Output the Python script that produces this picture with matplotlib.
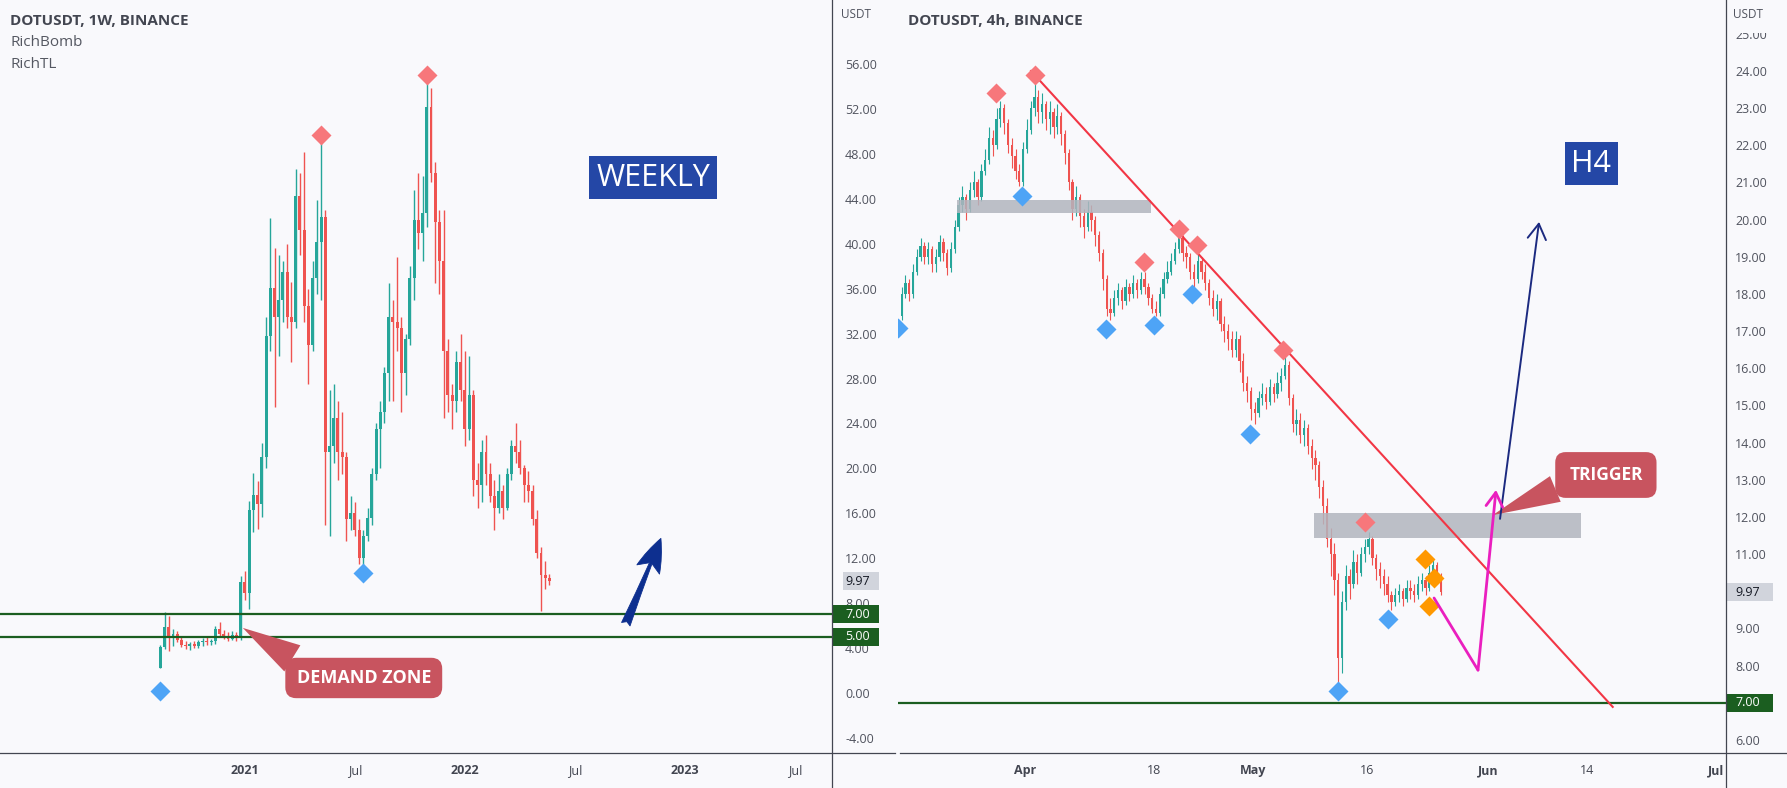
import matplotlib
matplotlib.use("Agg")
import numpy as np
import matplotlib.pyplot as plt
import matplotlib.transforms as mtransforms
from matplotlib.patches import Rectangle, FancyArrowPatch
from matplotlib.lines import Line2D

plt.rcParams["font.family"] = ["Open Sans", "DejaVu Sans"]

W, H = 1787, 788
BG = "#f9f9fc"
UP, DOWN = "#26a69a", "#ef5350"
TXT = "#50535e"
EDGE = "#434651"
ZONE = "#1b5e20"
PEAK, TROUGH, WARN = "#f7777b", "#4ea4f6", "#ff9800"

# ---- weekly DOTUSDT (bar index 0 = week of 2020-08-17) ----
w_first_open = 2.2
w_close = [4.1, 5.9, 4.9, 5.3, 4.7, 4.3, 4.2, 4.4, 4.2, 4.5,
           4.6, 4.5, 4.6, 5.7, 5.3, 5.0, 4.8, 5.2, 4.9, 9.9,
           8.9, 16.3, 17.6, 16.8, 21.0, 31.8, 36.1, 33.5, 35.0, 37.5,
           33.5, 33.0, 44.3, 41.2, 34.5, 31.0, 37.0, 40.2, 42.4, 21.5,
           22.0, 24.5, 21.5, 21.0, 15.5, 16.0, 14.5, 12.0, 14.0, 15.6,
           19.5, 23.5, 25.0, 28.5, 33.5, 33.0, 32.5, 28.5, 31.5, 37.0,
           42.1, 41.0, 42.7, 52.2, 46.3, 41.9, 38.5, 30.5, 26.5, 26.0,
           29.5, 27.0, 23.5, 26.5, 19.0, 18.5, 21.5, 19.5, 17.5, 16.5,
           18.0, 16.5, 19.5, 22.0, 21.5, 20.0, 18.5, 18.0, 15.5, 12.5,
           10.5, 10.2, 9.97]
w_high = [4.3, 7.2, 6.9, 5.7, 5.5, 5.0, 4.6, 4.5, 4.6, 4.7,
          4.9, 5.0, 4.8, 6.0, 6.3, 5.6, 5.4, 5.5, 5.4, 10.4,
          10.9, 17.1, 19.6, 18.9, 22.3, 33.5, 42.3, 39.6, 39.0, 38.5,
          40.0, 36.6, 46.7, 46.3, 48.2, 36.0, 38.5, 43.9, 49.7, 43.0,
          27.0, 27.5, 26.0, 25.0, 21.5, 17.5, 17.0, 15.5, 14.5, 16.5,
          20.0, 24.0, 26.0, 29.0, 36.5, 35.0, 38.8, 33.5, 32.0, 38.0,
          44.8, 46.3, 46.0, 55.0, 53.9, 47.3, 43.0, 43.0, 31.5, 27.5,
          30.5, 32.0, 30.5, 30.0, 27.0, 20.5, 22.5, 23.0, 20.5, 19.0,
          19.5, 18.5, 20.0, 22.5, 24.0, 22.5, 20.3, 19.8, 18.5, 16.3,
          13.0, 11.8, 10.6]
w_low = [2.2, 3.9, 3.7, 4.2, 4.5, 4.1, 3.9, 3.8, 4.0, 4.0,
         4.2, 4.3, 4.3, 4.4, 5.0, 4.8, 4.6, 4.7, 4.6, 4.7,
         8.3, 7.5, 14.3, 14.6, 15.7, 20.0, 30.5, 25.5, 30.0, 33.0,
         32.5, 29.5, 32.5, 39.0, 33.0, 27.5, 30.5, 35.5, 35.0, 15.0,
         14.0, 20.5, 19.0, 19.5, 13.5, 14.5, 14.0, 11.5, 10.4, 13.5,
         15.0, 19.0, 20.0, 24.0, 26.0, 26.0, 30.5, 25.0, 26.5, 31.0,
         35.0, 39.5, 38.5, 41.5, 45.5, 36.5, 35.5, 24.5, 25.0, 23.5,
         25.0, 26.0, 22.0, 22.5, 17.5, 16.5, 17.0, 18.5, 17.0, 14.5,
         16.0, 15.5, 16.3, 19.0, 20.5, 19.5, 17.0, 17.0, 15.0, 12.0,
         7.3, 9.3, 9.6]
w_tick_bars = [20, 46, 72, 98, 124, 150]
w_tick_labels = ["2021", "Jul", "2022", "Jul", "2023", "Jul"]
w_peak_bar, w_peak_px = [38, 63], [49.7, 55.0]
w_trough_bar, w_trough_px = [0, 48], [0.2, 10.65]
w_zones = [7.0, 5.0]

# ---- DOTUSDT 4h view, 12h bars from 2022-03-15 12:00 (day 0 = 1 Apr) ----
r_first_open = 17.4
r_close = [18.0,
           18.3, 18.0, 18.6, 19.0, 19.3, 19.0, 19.2, 18.8, 19.0, 19.4,
           19.1, 18.7, 19.2, 19.8, 20.4, 20.6, 20.3, 20.8, 21.0, 20.6,
           21.3, 21.6, 22.2, 22.0, 22.7, 23.0, 22.6, 22.0, 21.7, 21.3,
           21.0, 21.9, 22.4, 23.0, 23.3, 22.9, 23.1, 22.7, 22.9, 22.5,
           22.8, 22.3, 21.8, 21.0, 20.3, 20.6, 20.1, 19.8, 20.2, 20.0,
           19.6, 19.1, 18.4, 17.6, 17.5, 17.9, 18.1, 17.8, 18.2, 18.0,
           18.3, 18.1, 18.4, 18.2, 17.9, 17.6, 17.5, 18.0, 18.4, 18.6,
           18.9, 19.2, 19.5, 19.1, 19.0, 18.6, 18.4, 18.9, 18.6, 18.3,
           17.9, 17.6, 17.8, 17.2, 17.0, 16.8, 16.5, 16.8, 16.2, 15.6,
           15.4, 14.9, 14.8, 15.2, 15.3, 15.1, 15.5, 15.3, 15.6, 15.8,
           16.1, 15.2, 14.5, 14.6, 14.2, 14.4, 13.9, 13.6, 13.4, 12.8,
           12.3, 11.4, 11.0, 10.3, 8.2, 9.7, 10.4, 10.2, 10.8, 10.5,
           11.0, 11.2, 11.4, 10.9, 10.6, 10.4, 10.2, 9.9, 9.7, 9.9,
           10.0, 9.8, 10.1, 10.0, 9.9, 10.2, 10.3, 10.1, 10.5, 10.7,
           10.4, 9.97]
r_high = [18.2,
          18.5, 18.4, 18.8, 19.2, 19.5, 19.4, 19.4, 19.3, 19.2, 19.6,
          19.5, 19.2, 19.4, 20.0, 20.6, 20.9, 20.7, 21.0, 21.3, 21.1,
          21.5, 21.9, 22.5, 22.4, 23.0, 23.2, 23.1, 22.7, 22.2, 21.9,
          21.5, 22.1, 22.7, 23.2, 23.7, 23.5, 23.4, 23.2, 23.2, 23.0,
          23.1, 22.9, 22.4, 21.9, 21.1, 20.9, 20.7, 20.3, 20.5, 20.4,
          20.1, 19.7, 19.2, 18.5, 17.9, 18.1, 18.3, 18.2, 18.4, 18.3,
          18.5, 18.4, 18.6, 18.6, 18.3, 18.0, 17.8, 18.2, 18.6, 18.9,
          19.1, 19.4, 19.7, 19.6, 19.3, 19.1, 18.8, 19.2, 19.0, 18.8,
          18.4, 18.1, 18.0, 17.9, 17.4, 17.2, 17.0, 17.0, 16.9, 16.4,
          15.8, 15.5, 15.1, 15.4, 15.6, 15.5, 15.7, 15.6, 15.9, 16.0,
          16.3, 16.2, 15.3, 14.9, 14.8, 14.6, 14.5, 14.1, 13.8, 13.5,
          13.0, 12.5, 11.7, 11.3, 10.5, 10.0, 10.7, 10.6, 11.1, 11.0,
          11.2, 11.4, 11.6, 11.5, 11.0, 10.8, 10.6, 10.4, 10.0, 10.1,
          10.2, 10.1, 10.3, 10.3, 10.2, 10.4, 10.5, 10.4, 10.7, 10.9,
          10.8, 10.5]
r_low = [17.3,
         17.9, 17.8, 17.9, 18.5, 18.9, 18.8, 18.8, 18.6, 18.6, 18.9,
         18.9, 18.5, 18.6, 19.1, 19.7, 20.2, 20.0, 20.2, 20.6, 20.4,
         20.5, 21.2, 21.5, 21.7, 21.9, 22.5, 22.3, 21.8, 21.4, 21.1,
         20.9, 20.9, 21.8, 22.3, 22.8, 22.6, 22.6, 22.4, 22.3, 22.2,
         22.3, 22.0, 21.5, 20.8, 20.0, 20.1, 19.8, 19.5, 19.7, 19.7,
         19.3, 18.9, 18.1, 17.4, 17.3, 17.4, 17.7, 17.6, 17.7, 17.8,
         17.9, 17.9, 18.0, 18.0, 17.7, 17.5, 17.4, 17.4, 17.9, 18.3,
         18.5, 18.8, 19.1, 18.9, 18.7, 18.4, 18.2, 18.3, 18.4, 18.1,
         17.7, 17.4, 17.3, 17.0, 16.7, 16.5, 16.3, 16.3, 15.9, 15.4,
         15.1, 14.6, 14.5, 14.7, 15.0, 14.9, 15.0, 15.1, 15.2, 15.4,
         15.7, 15.0, 14.3, 14.2, 14.0, 13.9, 13.7, 13.3, 13.0, 12.5,
         11.8, 11.2, 10.4, 9.9, 7.5, 7.8, 9.5, 9.8, 10.1, 10.2,
         10.4, 10.8, 11.0, 10.7, 10.3, 10.1, 9.9, 9.7, 9.5, 9.6,
         9.7, 9.6, 9.7, 9.8, 9.7, 9.8, 10.0, 9.9, 10.0, 10.3,
         10.2, 9.9]
r_start_day = -16.5
r_tick_days = [0, 17, 30, 45, 61, 74, 91]
r_tick_labels = ["Apr", "18", "May", "16", "Jun", "14", "Jul"]
r_price_ticks = [6, 7, 8, 9, 11, 12, 13, 14, 15, 16, 17, 18, 19, 20, 21, 22, 23, 24, 25]
r_peak_day = [-3.8, 1.3, 15.7, 20.3, 22.6, 34.0, 44.8]
r_peak_px = [23.40, 23.89, 18.86, 19.75, 19.32, 16.50, 11.87]
r_trough_day = [-16.7, -0.36, 10.6, 17.0, 22.0, 29.6, 41.2, 47.8]
r_trough_px = [17.08, 20.64, 17.05, 17.17, 18.0, 14.23, 7.33, 9.26]
r_warn_day = [52.7, 53.9, 53.2]
r_warn_px = [10.86, 10.37, 9.60]
r_zone = 7.0
last_price = 9.97

fig = plt.figure(figsize=(W / 100, H / 100), dpi=100, facecolor=BG)


def px_axes(x0, y0, x1, y1):
    return fig.add_axes([x0 / W, 1 - y1 / H, (x1 - x0) / W, (y1 - y0) / H])


def candles(ax, x, first_open, high, low, close, width, lw, min_h):
    close = np.asarray(close, float)
    opn = np.concatenate([[first_open], close[:-1]])
    colors = np.where(close >= opn, UP, DOWN)
    hi = np.maximum(np.asarray(high, float), np.maximum(opn, close))
    lo = np.minimum(np.asarray(low, float), np.minimum(opn, close))
    ax.vlines(x, lo, hi, colors=colors, lw=lw, zorder=2)
    ax.bar(x, np.maximum(np.abs(close - opn), min_h), width,
           bottom=np.minimum(opn, close), color=colors, lw=0, zorder=2)


axL = px_axes(0, 0, 832, 753)
axR = px_axes(898, 0, 1726, 753)

for ax in (axL, axR):
    ax.set_facecolor(BG)
    for s in ax.spines.values():
        s.set_visible(False)
    ax.yaxis.tick_right()
    ax.tick_params(axis="both", length=0, labelsize=9, labelcolor=TXT)
    ax.tick_params(axis="x", pad=8)

# ---------------- left: weekly ----------------
wx = np.arange(len(w_close))
candles(axL, wx, w_first_open, w_high, w_low, w_close, 0.7, 1.0, 0.09)
axL.set_xlim(-37.9, 158.8)
axL.set_ylim(-5.34, 61.71)
yt = np.arange(-4, 57, 4)
axL.set_yticks(yt)
axL.set_yticklabels([f"{v:.2f}" for v in yt])
axL.tick_params(axis="y", pad=9.4)
axL.set_xticks(w_tick_bars)
axL.set_xticklabels(w_tick_labels)
for lab in axL.get_xticklabels():
    lab.set_fontweight("bold" if lab.get_text().isdigit() else "normal")
    lab.set_color("#434651")
for z in w_zones:
    axL.axhline(z, color=ZONE, lw=1.6, zorder=3)
axL.plot(w_peak_bar, w_peak_px, "D", ms=10.5, color=PEAK, mec="none", zorder=4)
axL.plot(w_trough_bar, w_trough_px, "D", ms=10.5, color=TROUGH, mec="none", zorder=4)

axL.text(116.5, 45.9, "WEEKLY", color="white", fontsize=22, ha="center", va="center",
         bbox=dict(boxstyle="square,pad=0.22", fc="#2447a6", ec="none"), zorder=6)

axL.annotate("DEMAND ZONE", xy=(19.5, 5.8), xytext=(48.1, 1.34),
             ha="center", va="center", fontsize=13, fontweight="bold", color="white",
             bbox=dict(boxstyle="round,pad=0.62,rounding_size=0.6", fc="#c8545f", ec="none"),
             arrowprops=dict(arrowstyle="wedge,tail_width=1.7", fc="#c8545f", ec="none",
                             shrinkA=0, shrinkB=0, relpos=(0.13, 0.85)),
             zorder=6)

axL.add_patch(FancyArrowPatch((109.8, 5.9), (118.6, 14.0),
                              arrowstyle="fancy,head_length=1.1,head_width=0.8,tail_width=0.3",
                              mutation_scale=22, fc="#0d2f8f", ec="#0d2f8f", lw=0.6, zorder=6))

# ---------------- right: 4h ----------------
rx = r_start_day + 0.5 * np.arange(len(r_close)) + 0.25
candles(axR, rx, r_first_open, r_high, r_low, r_close, 0.3, 0.8, 0.03)
axR.set_xlim(-16.73, 92.32)
axR.set_ylim(5.65, 25.91)
axR.set_yticks(r_price_ticks)
axR.set_yticklabels([f"{v:.2f}" for v in r_price_ticks])
axR.tick_params(axis="y", pad=6.5)
axR.set_xticks(r_tick_days)
axR.set_xticklabels(r_tick_labels)
for lab in axR.get_xticklabels():
    lab.set_fontweight("normal" if lab.get_text().isdigit() else "bold")
    lab.set_color("#434651")
axR.axhline(r_zone, color=ZONE, lw=1.6, zorder=3)

axR.add_patch(Rectangle((-8.96, 20.18), 25.56, 0.35, fc="#b2b5be", ec="none", alpha=0.85, zorder=4))
axR.add_patch(Rectangle((38.06, 11.44), 35.14, 0.67, fc="#b2b5be", ec="none", alpha=0.85, zorder=4))

axR.plot([0.79, 77.4], [24.0, 6.89], color="#f23645", lw=1.5, zorder=5)

axR.plot(r_peak_day, r_peak_px, "D", ms=10, color=PEAK, mec="none", zorder=6)
axR.plot(r_trough_day, r_trough_px, "D", ms=10, color=TROUGH, mec="none", zorder=6)
axR.plot(r_warn_day, r_warn_px, "D", ms=10, color=WARN, mec="none", zorder=6)

axR.text(74.6, 21.51, "H4", color="white", fontsize=22, ha="center", va="center",
         bbox=dict(boxstyle="square,pad=0.22", fc="#2447a6", ec="none"), zorder=6)

axR.annotate("TRIGGER", xy=(61.6, 12.05), xytext=(76.5, 13.13),
             ha="center", va="center", fontsize=12.5, fontweight="bold", color="white",
             bbox=dict(boxstyle="round,pad=0.8,rounding_size=0.6", fc="#c8545f", ec="none"),
             arrowprops=dict(arrowstyle="wedge,tail_width=1.6", fc="#c8545f", ec="none",
                             shrinkA=0, shrinkB=0, relpos=(0.12, 0.25)),
             zorder=6)

axR.annotate("", xy=(67.7, 19.94), xytext=(62.56, 11.95),
             arrowprops=dict(arrowstyle="->,head_length=0.5,head_width=0.3", color="#1c2a80",
                             lw=1.4, shrinkA=0, shrinkB=0, mutation_scale=22), zorder=6)

MAG = "#ea1fbf"
axR.plot([53.87, 59.66], [9.82, 7.88], color=MAG, lw=2, zorder=6, solid_capstyle="round")
axR.annotate("", xy=(62.03, 12.73), xytext=(59.66, 7.88),
             arrowprops=dict(arrowstyle="->,head_length=0.5,head_width=0.3", color=MAG,
                             lw=2, shrinkA=0, shrinkB=0, mutation_scale=20), zorder=6)

# ---------------- price scale tags ----------------


def tag(ax, y, text, fc, tc, x0, x1, tx, axw, unit):
    tr = mtransforms.blended_transform_factory(ax.transAxes, ax.transData)
    h = 18 / unit
    ax.add_patch(Rectangle((1 + x0 / axw, y - h / 2), (x1 - x0) / axw, h, transform=tr,
                           fc=fc, ec="none", clip_on=False, zorder=8))
    ax.text(1 + tx / axw, y, text, transform=tr, color=tc, fontsize=9, va="center",
            ha="left", clip_on=False, zorder=9)


tag(axL, last_price, f"{last_price:.2f}", "#d1d4dc", "#131722", 11, 47, 13, 832, 11.23)
for z in w_zones:
    tag(axL, z, f"{z:.2f}", ZONE, "white", 0, 47, 13, 832, 11.23)
tag(axR, last_price, f"{last_price:.2f}", "#d1d4dc", "#131722", 1, 47, 9, 828, 37.17)
tag(axR, r_zone, f"{r_zone:.2f}", ZONE, "white", 1, 47, 9, 828, 37.17)

# ---------------- frame, headers ----------------
fig.add_artist(Rectangle((1727 / W, 1 - 33 / H), 60 / W, 33 / H, transform=fig.transFigure,
                         fc=BG, ec="none", zorder=5))
for x in (832, 1726):
    fig.add_artist(Line2D([x / W, x / W], [0, 1], color=EDGE, lw=0.9, zorder=6))
yb = 1 - 753 / H
fig.add_artist(Line2D([0, 895 / W], [yb, yb], color=EDGE, lw=0.9, zorder=6))
fig.add_artist(Line2D([900 / W, 1], [yb, yb], color=EDGE, lw=0.9, zorder=6))

fig.text(841 / W, 1 - 15 / H, "USDT", fontsize=8.5, color=TXT, va="center", zorder=7)
fig.text(1733 / W, 1 - 15 / H, "USDT", fontsize=8.5, color=TXT, va="center", zorder=7)

fig.text(10 / W, 1 - 21 / H, "DOTUSDT, 1W, BINANCE", fontsize=11, fontweight="bold",
         color="#434651", va="center")
fig.text(10 / W, 1 - 42 / H, "RichBomb", fontsize=11, color="#555862", va="center")
fig.text(10 / W, 1 - 64 / H, "RichTL", fontsize=11, color="#555862", va="center")
fig.text(908 / W, 1 - 21 / H, "DOTUSDT, 4h, BINANCE", fontsize=11, fontweight="bold",
         color="#434651", va="center")

fig.savefig("out.png", dpi=100, facecolor=BG)
